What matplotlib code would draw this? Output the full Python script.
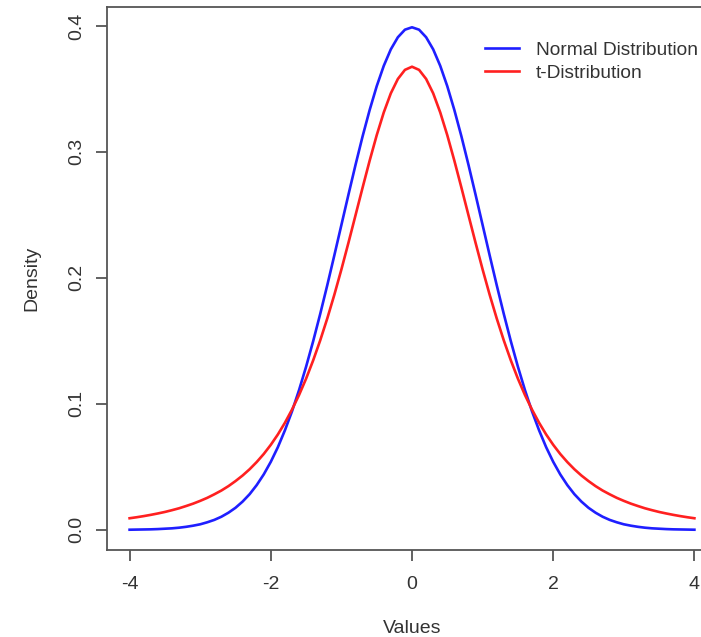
import matplotlib.pyplot as plt

plt.rcParams['font.family'] = ['Liberation Sans', 'DejaVu Sans']

# values
x = [-4.0, -3.9, -3.8, -3.7, -3.6, -3.5, -3.4, -3.3, -3.2, -3.1,
     -3.0, -2.9, -2.8, -2.7, -2.6, -2.5, -2.4, -2.3, -2.2, -2.1,
     -2.0, -1.9, -1.8, -1.7, -1.6, -1.5, -1.4, -1.3, -1.2, -1.1,
     -1.0, -0.9, -0.8, -0.7, -0.6, -0.5, -0.4, -0.3, -0.2, -0.1,
     0.0, 0.1, 0.2, 0.3, 0.4, 0.5, 0.6, 0.7, 0.8, 0.9,
     1.0, 1.1, 1.2, 1.3, 1.4, 1.5, 1.6, 1.7, 1.8, 1.9,
     2.0, 2.1, 2.2, 2.3, 2.4, 2.5, 2.6, 2.7, 2.8, 2.9,
     3.0, 3.1, 3.2, 3.3, 3.4, 3.5, 3.6, 3.7, 3.8, 3.9, 4.0]
normal = [0.0001, 0.0002, 0.0003, 0.0004, 0.0006, 0.0009, 0.0012, 0.0017, 0.0024, 0.0033,
          0.0044, 0.0060, 0.0079, 0.0104, 0.0136, 0.0175, 0.0224, 0.0283, 0.0355, 0.0440,
          0.0540, 0.0656, 0.0790, 0.0940, 0.1109, 0.1295, 0.1497, 0.1714, 0.1942, 0.2179,
          0.2420, 0.2661, 0.2897, 0.3123, 0.3332, 0.3521, 0.3683, 0.3814, 0.3910, 0.3970,
          0.3989, 0.3970, 0.3910, 0.3814, 0.3683, 0.3521, 0.3332, 0.3123, 0.2897, 0.2661,
          0.2420, 0.2179, 0.1942, 0.1714, 0.1497, 0.1295, 0.1109, 0.0940, 0.0790, 0.0656,
          0.0540, 0.0440, 0.0355, 0.0283, 0.0224, 0.0175, 0.0136, 0.0104, 0.0079, 0.0060,
          0.0044, 0.0033, 0.0024, 0.0017, 0.0012, 0.0009, 0.0006, 0.0004, 0.0003, 0.0002, 0.0001]
tdist = [0.0092, 0.0100, 0.0109, 0.0119, 0.0130, 0.0142, 0.0156, 0.0171, 0.0189, 0.0208,
         0.0230, 0.0254, 0.0282, 0.0312, 0.0347, 0.0387, 0.0431, 0.0481, 0.0538, 0.0602,
         0.0675, 0.0757, 0.0850, 0.0954, 0.1070, 0.1200, 0.1345, 0.1504, 0.1678, 0.1866,
         0.2067, 0.2279, 0.2497, 0.2716, 0.2930, 0.3132, 0.3313, 0.3465, 0.3579, 0.3651,
         0.3676, 0.3651, 0.3579, 0.3465, 0.3313, 0.3132, 0.2930, 0.2716, 0.2497, 0.2279,
         0.2067, 0.1866, 0.1678, 0.1504, 0.1345, 0.1200, 0.1070, 0.0954, 0.0850, 0.0757,
         0.0675, 0.0602, 0.0538, 0.0481, 0.0431, 0.0387, 0.0347, 0.0312, 0.0282, 0.0254,
         0.0230, 0.0208, 0.0189, 0.0171, 0.0156, 0.0142, 0.0130, 0.0119, 0.0109, 0.0100, 0.0092]
xticks = [-4, -2, 0, 2, 4]
yticks = [0.0, 0.1, 0.2, 0.3, 0.4]

fig = plt.figure(figsize=(7.01, 6.37), dpi=100)
# plot region runs past the right edge like in the cropped original
ax = fig.add_axes([107 / 701, 87 / 637, 610 / 701, 543 / 637])

ax.plot(x, normal, color='#1f1fff', lw=1.9, label='Normal Distribution')
ax.plot(x, tdist, color='#ff2020', lw=1.9, label='t-Distribution')

ax.set_xlim(-4.32, 4.32)
ax.set_ylim(-0.016, 0.415)
ax.set_xticks(xticks)
ax.set_xticklabels(['-4', '-2', '0', '2', '4'])
ax.set_yticks(yticks)
ax.set_yticklabels(['0.0', '0.1', '0.2', '0.3', '0.4'], rotation=90, va='center')

for s in ax.spines.values():
    s.set_color('#555555')
    s.set_linewidth(1.3)
ax.tick_params(length=8, width=1.3, color='#555555', labelsize=14, labelcolor='#333333')
ax.tick_params(axis='x', pad=11)
ax.tick_params(axis='y', pad=8)

ax.set_xlabel('Values', fontsize=14, color='#333333', labelpad=19)
ax.set_ylabel('Density', fontsize=14, color='#333333', labelpad=20)

leg = ax.legend(loc='upper left', bbox_to_anchor=(0.592, 0.968), frameon=False,
                fontsize=13.8, handlelength=1.77, handletextpad=0.85, labelspacing=0.27)
for t in leg.get_texts():
    t.set_color('#333333')

fig.savefig('out.png', dpi=100)
